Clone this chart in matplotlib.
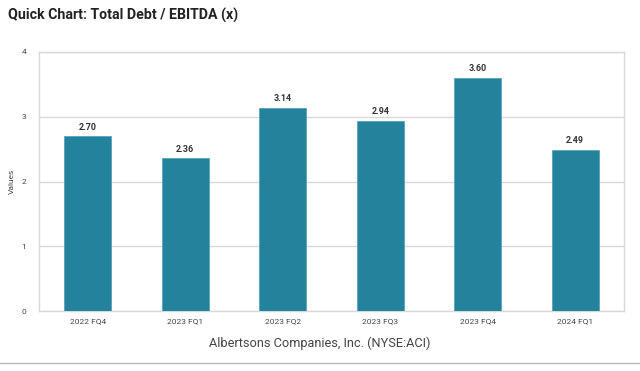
import matplotlib.pyplot as plt
import numpy as np

periods = ['2022 FQ4', '2023 FQ1', '2023 FQ2', '2023 FQ3', '2023 FQ4', '2024 FQ1']
debt_ebitda = [2.70, 2.36, 3.14, 2.94, 3.60, 2.49]
y_ticks = [0, 1, 2, 3, 4]

bar_color = '#23829c'
grid_color = '#d9d9d9'

plt.rcParams['font.family'] = ['Roboto', 'DejaVu Sans']

fig = plt.figure(figsize=(6.4, 3.71), dpi=100)
ax = fig.add_axes([39 / 640, 1 - 311 / 371, (624 - 39) / 640, (311 - 52) / 371])

x = np.arange(len(periods))
bars = ax.bar(x, debt_ebitda, width=0.48, color=bar_color, edgecolor='#5aa3b8', linewidth=0.6, zorder=3)
for b, v in zip(bars, debt_ebitda):
    ax.text(b.get_x() + b.get_width() / 2, v + 0.07, f'{v:.2f}', ha='center', va='bottom',
            fontsize=6.5, fontweight='bold', color='#333333')

ax.set_xlim(-0.5, len(periods) - 0.5)
ax.set_ylim(0, 4)
ax.set_yticks(y_ticks)
ax.set_xticks(x)
ax.set_xticklabels(periods)
ax.tick_params(axis='both', length=0, labelsize=6, colors='#444444')
ax.tick_params(axis='y', pad=9)
ax.tick_params(axis='x', pad=5)
ax.grid(axis='y', color=grid_color, linewidth=1, zorder=0)
for s in ax.spines.values():
    s.set_color(grid_color)
    s.set_linewidth(1)

ax.set_ylabel('Values', fontsize=6, color='#444444')
ax.yaxis.set_label_coords(-0.041, 0.5)

# source label sits centred on the figure, not on the axes
fig.text(0.5, 1 - 343 / 371, 'Albertsons Companies, Inc. (NYSE:ACI)', fontsize=9.2, color='#444444',
         ha='center', va='center')

fig.text(8 / 640, 1 - 15 / 371, 'Quick Chart: Total Debt / EBITDA (x)', fontsize=10.2, fontweight='bold',
         color='#222222', va='center', ha='left')
fig.add_artist(plt.Line2D([0, 1], [1 - 363 / 371] * 2, color='#bbbbbb', linewidth=1))

fig.savefig('out.png', dpi=100, facecolor='white')
